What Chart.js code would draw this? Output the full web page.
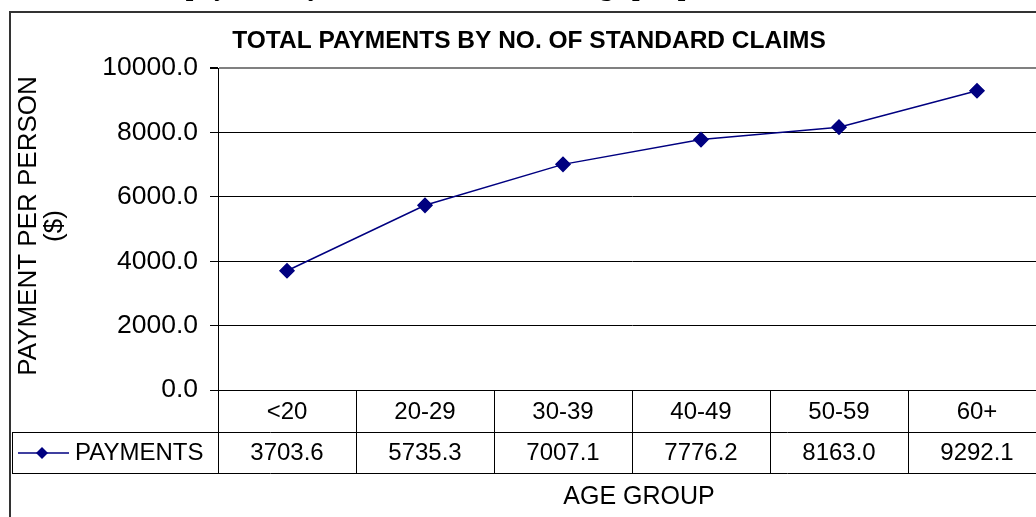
<!DOCTYPE html>
<html>
<head>
<meta charset="utf-8">
<script src="https://cdn.jsdelivr.net/npm/chart.js@4/dist/chart.umd.min.js"></script>
<style>
  html, body { margin: 0; padding: 0; background: #fff; overflow: hidden; }
  #wrap { position: absolute; left: 0; top: 0; width: 1060px; height: 517px; }
</style>
</head>
<body>
<div id="wrap"><canvas id="lineChart" width="1060" height="517"></canvas></div>
<script>
// chart data
const ageGroups = ['<20', '20-29', '30-39', '40-49', '50-59', '60+'];
const payments = [3703.6, 5735.3, 7007.1, 7776.2, 8163.0, 9292.1];
const seriesName = 'PAYMENTS';
const yTicks = [0, 2000, 4000, 6000, 8000, 10000];

const chartTitle = 'TOTAL PAYMENTS BY NO. OF STANDARD CLAIMS';
const yTitle = ['PAYMENT PER PERSON', '($)'];
const xTitle = 'AGE GROUP';
const pageHeading = 'Total payment by number of claims and age per person';

const navy = '#000080';
const font = 'Arial, "Liberation Sans", sans-serif';

// draws the frame, titles and the data table under the plot
const tablePlugin = {
  id: 'tablePlugin',
  afterDraw(chart) {
    const ctx = chart.ctx;
    const area = chart.chartArea;
    const xs = chart.scales.x;
    const colW = xs.getPixelForValue(1) - xs.getPixelForValue(0);
    const row1 = area.bottom + 42;
    const row2 = row1 + 41;
    const right = area.right;

    ctx.save();

    // heading cut off at the top of the page (only descenders show)
    ctx.fillStyle = '#000';
    ctx.font = 'bold 27px "Liberation Serif", "Times New Roman", serif';
    ctx.textAlign = 'left';
    ctx.textBaseline = 'alphabetic';
    ctx.fillText(pageHeading, 120, -5);

    // outer frame
    ctx.strokeStyle = '#333';
    ctx.lineWidth = 2;
    ctx.beginPath();
    ctx.moveTo(10, 600);
    ctx.lineTo(10, 12);
    ctx.lineTo(1100, 12);
    ctx.stroke();

    // chart title
    ctx.font = 'bold 24.5px ' + font;
    ctx.textAlign = 'center';
    ctx.fillText(chartTitle, 529, 48);

    // y axis title, two lines rotated
    ctx.font = '26px ' + font;
    ctx.save();
    ctx.translate(36, 226);
    ctx.rotate(-Math.PI / 2);
    ctx.textAlign = 'center';
    ctx.fillText(yTitle[0], 0, 0);
    ctx.fillText(yTitle[1], 0, 26);
    ctx.restore();

    // table lines
    ctx.strokeStyle = '#000';
    ctx.lineWidth = 1;
    ctx.beginPath();
    ctx.moveTo(12, row1 + 0.5);
    ctx.lineTo(right, row1 + 0.5);
    ctx.moveTo(12, row2 + 0.5);
    ctx.lineTo(right, row2 + 0.5);
    ctx.moveTo(12.5, row1);
    ctx.lineTo(12.5, row2);
    for (let i = 0; i <= ageGroups.length; i++) {
      const x = Math.round(xs.getPixelForValue(i) - colW / 2) + 0.5;
      ctx.moveTo(x, area.bottom);
      ctx.lineTo(x, row2);
    }
    ctx.stroke();

    // categories and values
    ctx.font = '24px ' + font;
    ctx.textAlign = 'center';
    ctx.textBaseline = 'middle';
    ageGroups.forEach((g, i) => {
      const x = xs.getPixelForValue(i);
      ctx.fillText(g, x, area.bottom + 22);
      ctx.fillText(payments[i].toFixed(1), x, row1 + 21);
    });

    // legend key in the table
    const ly = row1 + 21;
    ctx.strokeStyle = navy;
    ctx.lineWidth = 1.5;
    ctx.beginPath();
    ctx.moveTo(18, ly);
    ctx.lineTo(69, ly);
    ctx.stroke();
    ctx.fillStyle = navy;
    ctx.beginPath();
    ctx.moveTo(42, ly - 6);
    ctx.lineTo(48, ly);
    ctx.lineTo(42, ly + 6);
    ctx.lineTo(36, ly);
    ctx.closePath();
    ctx.fill();
    ctx.fillStyle = '#000';
    ctx.textAlign = 'left';
    ctx.fillText(seriesName, 75, ly);

    // x axis title
    ctx.font = '25px ' + font;
    ctx.textAlign = 'center';
    ctx.fillText(xTitle, 639, 497);

    ctx.restore();
  }
};

const ctx = document.getElementById('lineChart').getContext('2d');
new Chart(ctx, {
  type: 'line',
  data: {
    labels: ageGroups,
    datasets: [{
      label: seriesName,
      data: payments,
      borderColor: navy,
      backgroundColor: navy,
      borderWidth: 1.5,
      pointStyle: 'rectRot',
      pointRadius: 7,
      pointBackgroundColor: navy,
      pointBorderColor: navy,
      tension: 0,
      fill: false
    }]
  },
  options: {
    responsive: false,
    animation: false,
    devicePixelRatio: 1,
    layout: { padding: { top: 68, right: 14, left: 0, bottom: 0 } },
    scales: {
      x: {
        offset: true,
        grid: { display: false },
        border: { display: true, color: '#000', width: 1 },
        ticks: { display: false },
        afterFit: (scale) => { scale.height = 127; }
      },
      y: {
        min: yTicks[0],
        max: yTicks[yTicks.length - 1],
        afterBuildTicks: (scale) => { scale.ticks = yTicks.map(v => ({ value: v })); },
        border: { display: true, color: '#000', width: 1 },
        grid: {
          color: (c) => c.tick && c.tick.value === 10000 ? '#808080' : '#000',
          lineWidth: (c) => c.tick && c.tick.value === 10000 ? 2 : 1,
          tickColor: '#000',
          tickLength: 8
        },
        ticks: {
          color: '#000',
          font: { family: font, size: 26.5 },
          padding: 12,
          callback: (v) => Number(v).toFixed(1)
        },
        afterFit: (scale) => { scale.width = 218; }
      }
    },
    plugins: {
      legend: { display: false },
      title: { display: false },
      tooltip: { enabled: false }
    }
  },
  plugins: [tablePlugin]
});
</script>
</body>
</html>
